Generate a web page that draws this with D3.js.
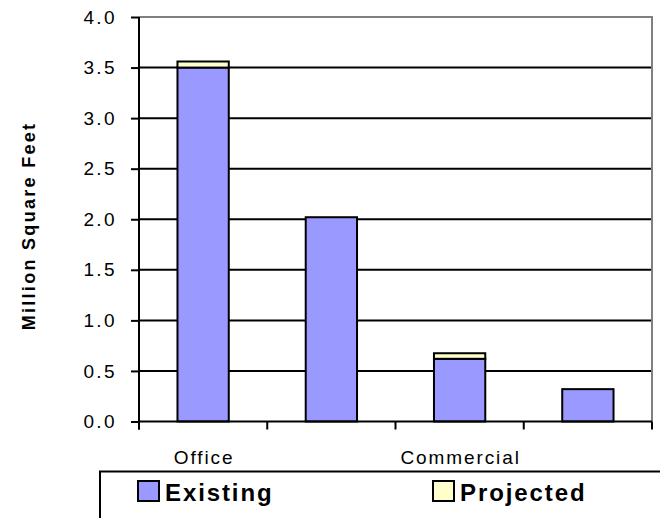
<!DOCTYPE html>
<html>
<head>
<meta charset="utf-8">
<script src="https://cdn.jsdelivr.net/npm/d3@7"></script>
<style>
	body { margin: 0; background: #fff; }
	svg { display: block; font-family: "Liberation Sans", Arial, sans-serif; }
</style>
</head>
<body>
<div id="chart"></div>
<script>
// ----------------------------
// Data
// ----------------------------
var categories = ["Office", "Category 2", "Commercial", "Category 4"];
var tickLabels = ["Office", "", "Commercial", ""];
var existing = [3.50, 2.02, 0.62, 0.32];
var projected = [0.06, 0.00, 0.055, 0.00];
var seriesNames = ["Existing", "Projected"];
var seriesColors = ["#9999ff", "#ffffcc"];
var yTicks = [0, 0.5, 1.0, 1.5, 2.0, 2.5, 3.0, 3.5, 4.0];

// ----------------------------
// Setup
// ----------------------------
var Vis = {};
Vis.width = 660;
Vis.height = 518;
Vis.left = 139;
Vis.right = 652;
Vis.top = 17;
Vis.bottom = 421.5;

Vis.svg = d3.select("#chart").append("svg")
	.attr("width", Vis.width)
	.attr("height", Vis.height);

Vis.xScale = d3.scaleBand()
	.domain(categories)
	.range([Vis.left, Vis.right])
	.paddingInner(0.6)
	.paddingOuter(0.3);

Vis.yScale = d3.scaleLinear()
	.domain([0, 4])
	.range([Vis.bottom, Vis.top]);

Vis.color = d3.scaleOrdinal().domain(seriesNames).range(seriesColors);

var rows = categories.map((c, i) => ({ cat: c, Existing: existing[i], Projected: projected[i] }));
var stacked = d3.stack().keys(seriesNames)(rows);

// ----------------------------
// Gridlines & plot border
// ----------------------------
Vis.svg.append("g").selectAll("line")
	.data(yTicks.filter(t => t > 0 && t < 4))
	.enter().append("line")
	.attr("x1", Vis.left).attr("x2", Vis.right)
	.attr("y1", d => Vis.yScale(d)).attr("y2", d => Vis.yScale(d))
	.attr("stroke", "#000").attr("stroke-width", 2);

Vis.svg.append("path")
	.attr("d", `M${Vis.left},${Vis.yScale(4)}H${Vis.right}V${Vis.bottom}`)
	.attr("fill", "none").attr("stroke", "#808080").attr("stroke-width", 2);

// ----------------------------
// Bars
// ----------------------------
Vis.svg.append("g").selectAll("g")
	.data(stacked)
	.enter().append("g")
	.attr("fill", d => Vis.color(d.key))
	.selectAll("rect")
	.data(d => d.filter(p => p[1] - p[0] > 0))
	.enter().append("rect")
	.attr("x", d => Vis.xScale(d.data.cat))
	.attr("y", d => Vis.yScale(d[1]))
	.attr("width", Vis.xScale.bandwidth())
	.attr("height", d => Vis.yScale(d[0]) - Vis.yScale(d[1]))
	.attr("stroke", "#000").attr("stroke-width", 2);

// ----------------------------
// Axes
// ----------------------------
var yAxis = d3.axisLeft(Vis.yScale)
	.tickValues(yTicks)
	.tickFormat(d3.format(".1f"))
	.tickSize(8)
	.tickPadding(14);

Vis.svg.append("g")
	.attr("transform", `translate(${Vis.left},0)`)
	.call(yAxis)
	.call(g => g.select(".domain").attr("stroke", "#000").attr("stroke-width", 2).attr("d", `M-0,${Vis.yScale(4)}V${Vis.bottom + 8}`))
	.call(g => g.selectAll(".tick line").attr("stroke", "#000").attr("stroke-width", 2))
	.call(g => g.selectAll(".tick text")
		.attr("font-size", 19).attr("letter-spacing", "2.4px")
		.attr("font-family", "Liberation Sans, Arial, sans-serif")
		.attr("fill", "#000"));

// x axis: ticks on category boundaries
var step = Vis.xScale.step();
var bounds = d3.range(categories.length + 1).map(i => Vis.left + i * step);

Vis.svg.append("line")
	.attr("x1", Vis.left).attr("x2", Vis.right)
	.attr("y1", Vis.bottom).attr("y2", Vis.bottom)
	.attr("stroke", "#000").attr("stroke-width", 2);

Vis.svg.append("g").selectAll("line")
	.data(bounds)
	.enter().append("line")
	.attr("x1", d => d).attr("x2", d => d)
	.attr("y1", Vis.bottom).attr("y2", Vis.bottom + 8)
	.attr("stroke", "#000").attr("stroke-width", 2);

Vis.svg.append("g").selectAll("text")
	.data(categories)
	.enter().append("text")
	.attr("x", d => Vis.xScale(d) + Vis.xScale.bandwidth() / 2 + 1)
	.attr("y", 464)
	.attr("text-anchor", "middle")
	.attr("font-size", 19)
	.attr("letter-spacing", "1.9px")
	.text((d, i) => tickLabels[i]);

// y title
Vis.svg.append("text")
	.attr("transform", "translate(35,226) rotate(-90)")
	.attr("text-anchor", "middle")
	.attr("font-size", 18)
	.attr("font-weight", "bold")
	.attr("letter-spacing", "2.3px")
	.text("Million Square Feet");

// ----------------------------
// Legend
// ----------------------------
Vis.svg.append("path")
	.attr("d", "M100,520V471.5H662")
	.attr("fill", "none").attr("stroke", "#000").attr("stroke-width", 2);

var legendX = [138, 433];
var legend = Vis.svg.append("g").selectAll("g")
	.data(seriesNames)
	.enter().append("g")
	.attr("transform", (d, i) => `translate(${legendX[i]},481)`);

legend.append("rect")
	.attr("width", 21).attr("height", 20)
	.attr("fill", d => Vis.color(d))
	.attr("stroke", "#000").attr("stroke-width", 2);

legend.append("text")
	.attr("x", 27).attr("y", 20)
	.attr("font-size", 24)
	.attr("font-weight", "bold")
	.attr("letter-spacing", "1.9px")
	.text(d => d);
</script>
</body>
</html>
